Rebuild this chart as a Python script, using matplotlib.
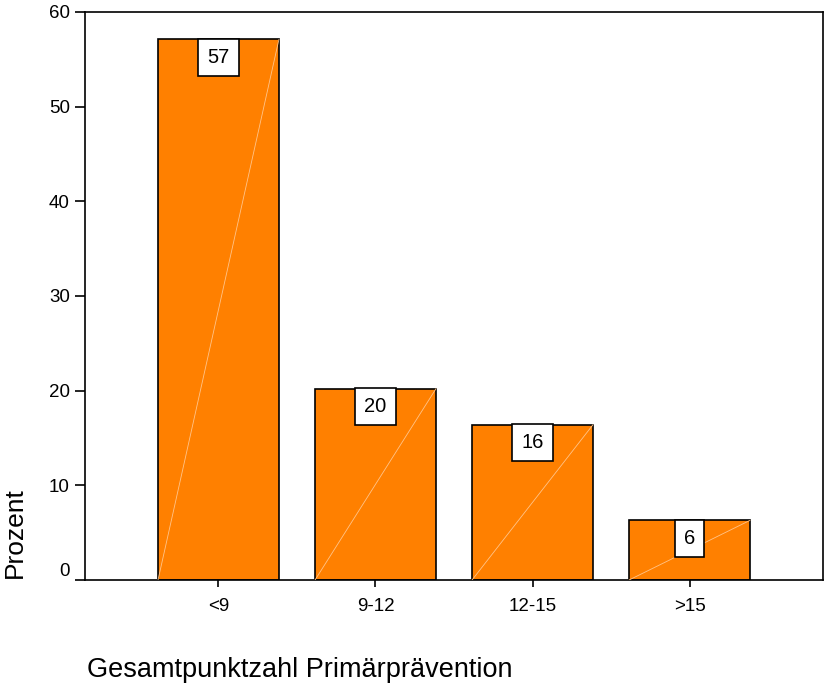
import matplotlib.pyplot as plt

plt.rcParams['font.family'] = ['Liberation Sans', 'DejaVu Sans']

categories = ['<9', '9-12', '12-15', '>15']
percent = [57.1, 20.2, 16.4, 6.3]
labels = ['57', '20', '16', '6']

fig = plt.figure(figsize=(8.26, 6.84), dpi=100)
ax = fig.add_axes([85 / 826, 1 - 580 / 684, 738 / 826, 568 / 684])

x = range(len(categories))
width = 0.77
ax.bar(x, percent, width=width, color='#ff8000', edgecolor='black', linewidth=1.2, zorder=2)

# faint diagonal streaks inside the bars
for i, v in zip(x, percent):
    ax.plot([i - width / 2, i + width / 2], [0, v], color='#ffc48a', lw=0.6, zorder=3)

for i, v, lab in zip(x, percent, labels):
    ax.annotate(lab, (i, v), xytext=(0, -18), textcoords='offset pixels',
                ha='center', va='center', fontsize=14.5, zorder=4,
                bbox=dict(boxstyle='square,pad=0.45', fc='white', ec='black', lw=1.2))

ax.set_xlim(-0.85, 3.85)
ax.set_ylim(0, 60)
ax.set_yticks([0, 10, 20, 30, 40, 50, 60])
ax.set_xticks(list(x))
ax.set_xticklabels(categories)
ax.tick_params(axis='y', direction='out', length=7, width=1.2, labelsize=13.5, pad=4)
ax.tick_params(axis='x', direction='out', length=5, width=1.2, labelsize=13.5, pad=8)
ax.get_yticklabels()[0].set_va('bottom')
for s in ax.spines.values():
    s.set_linewidth(1.2)

fig.text(15 / 826, 1 - 533 / 684, 'Prozent', rotation=90, ha='center', va='center', fontsize=19)
fig.text(87 / 826, 1 - 677 / 684, 'Gesamtpunktzahl Primärprävention', ha='left', va='baseline', fontsize=19.5)

fig.savefig('out.png', dpi=100)
